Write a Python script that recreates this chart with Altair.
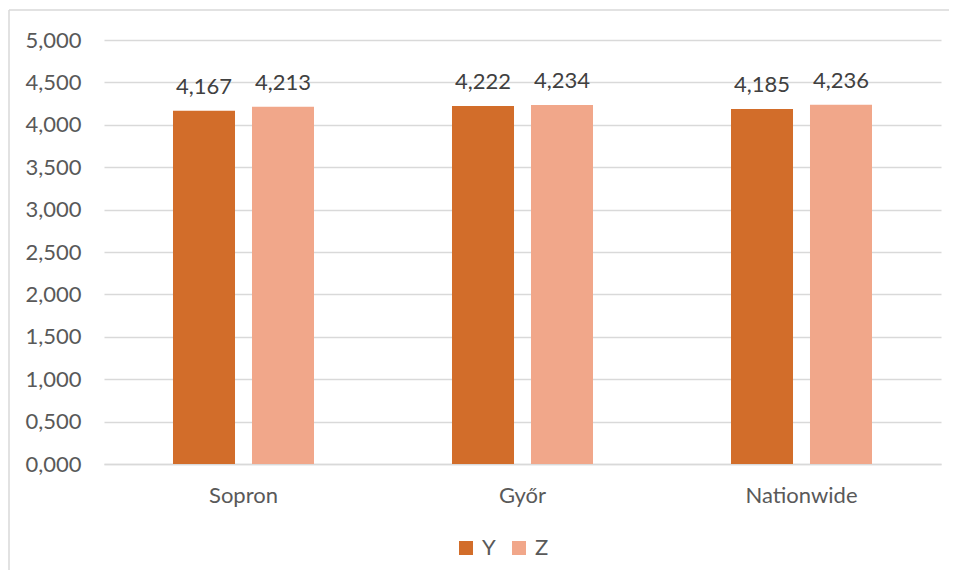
import altair as alt
import pandas as pd

categories = ["Sopron", "Győr", "Nationwide"]
series = ["Y", "Z"]
y_values = [4.167, 4.222, 4.185]
z_values = [4.213, 4.234, 4.236]
y_ticks = [0, 0.5, 1, 1.5, 2, 2.5, 3, 3.5, 4, 4.5, 5]
colors = ["#D26D2A", "#F1A78A"]

rows = []
for c, yv, zv in zip(categories, y_values, z_values):
    rows.append({"cat": c, "series": "Y", "value": yv})
    rows.append({"cat": c, "series": "Z", "value": zv})
df = pd.DataFrame(rows)

FONT = "Lato"
FS = 22

x_enc = alt.X("cat:N", sort=categories,
              scale=alt.Scale(paddingInner=0.4946, paddingOuter=0.2473),
              axis=alt.Axis(title=None, labelAngle=0, labelFont=FONT, labelFontSize=FS,
                            labelColor="#595959", ticks=False, domain=True, grid=False,
                            domainColor="#d9d9d9", domainWidth=1.5, labelPadding=21))
xo_enc = alt.XOffset("series:N", sort=series,
                     scale=alt.Scale(paddingInner=0.215, paddingOuter=0))
y_enc = alt.Y("value:Q", scale=alt.Scale(domain=[0, 5], nice=False),
              axis=alt.Axis(title=None, values=y_ticks,
                            labelExpr="replace(format(datum.value, '.3f'), '.', ',')",
                            labelFont=FONT, labelFontSize=FS, labelColor="#595959",
                            ticks=False, domain=False, gridColor="#d9d9d9",
                            gridWidth=1.5, labelPadding=23))

base = alt.Chart(df)

bars = base.mark_bar().encode(
    x=x_enc, xOffset=xo_enc, y=y_enc,
    color=alt.Color("series:N", sort=series,
                    scale=alt.Scale(domain=series, range=colors),
                    legend=alt.Legend(title=None, orient="none", legendX=351, legendY=497,
                                      direction="horizontal", symbolType="square",
                                      symbolSize=196, symbolStrokeWidth=0,
                                      labelFont=FONT, labelFontSize=FS,
                                      labelColor="#595959", columnPadding=12,
                                      labelOffset=5)),
)

labels = base.transform_calculate(
    lbl="replace(format(datum.value, '.3f'), '.', ',')"
).mark_text(font=FONT, fontSize=FS, color="#404040", baseline="alphabetic", dy=-17).encode(
    x=x_enc, xOffset=xo_enc, y=y_enc, text="lbl:N"
)

frame_left = alt.Chart(pd.DataFrame({"a": [0]})).mark_rule(color="#d9d9d9", strokeWidth=1.5).encode(
    x=alt.value(-95), y=alt.value(-30), y2=alt.value(540)
)
frame_top = alt.Chart(pd.DataFrame({"a": [0]})).mark_rule(color="#d9d9d9", strokeWidth=1.5).encode(
    x=alt.value(-95), x2=alt.value(860), y=alt.value(-30)
)

chart = alt.layer(frame_left, frame_top, bars, labels).properties(
    width=837, height=424,
    background="white",
    autosize=alt.AutoSizeParams(type="none"),
    padding={"left": 96, "top": 32, "right": 8, "bottom": 106},
).configure_view(stroke="transparent", strokeWidth=0)

chart.save("out.html", embed_options={"renderer": "svg", "actions": False})
